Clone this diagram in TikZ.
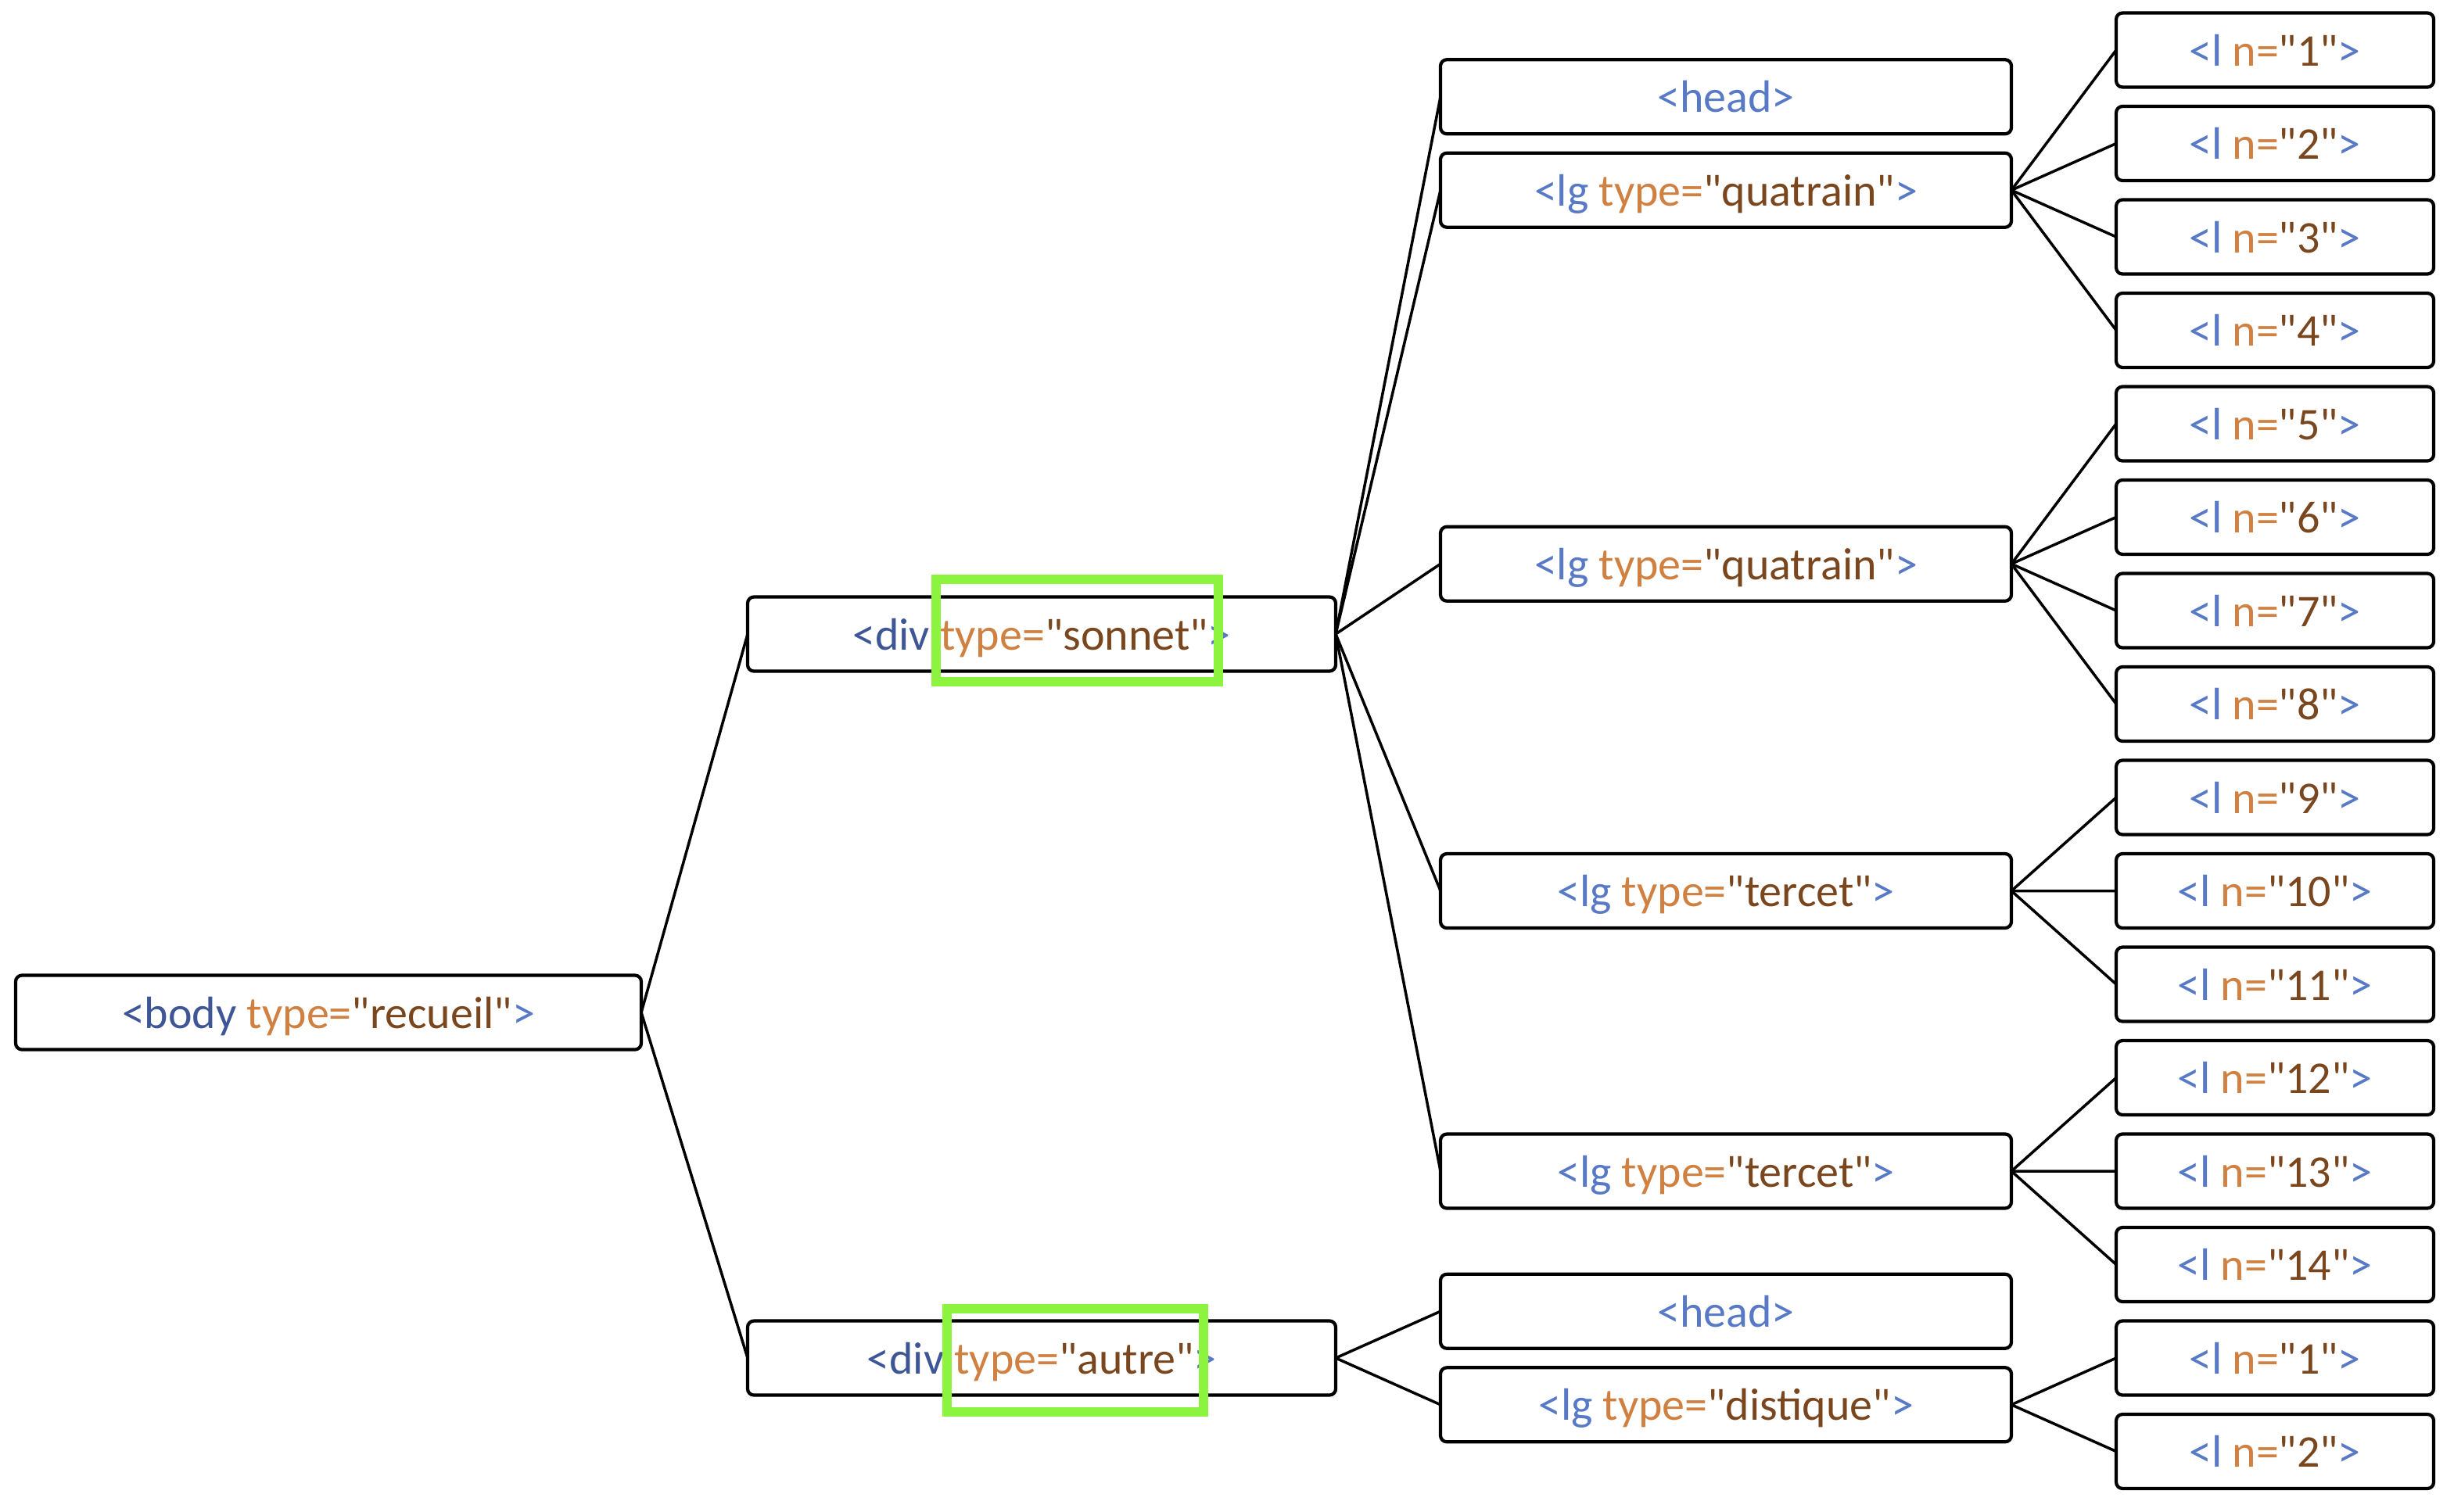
\documentclass[tikz,border=0pt]{standalone}
\usepackage{fontspec}
\setmainfont{Carlito}[Ligatures=TeXOff]
\usepackage{xcolor}
\usepackage{tikz}
\usetikzlibrary{positioning}

\definecolor{tagdark}{RGB}{62,86,150}
\definecolor{tagblue}{RGB}{88,122,198}
\definecolor{attrorange}{RGB}{208,128,64}
\definecolor{valbrown}{RGB}{122,70,30}
\definecolor{hlgreen}{RGB}{140,244,62}

\newcommand{\attr}[2]{\textcolor{attrorange}{#1=}\textcolor{valbrown}{"#2"}}
\newcommand{\lnum}[1]{\textcolor{tagblue}{<l }\attr{n}{#1}\textcolor{tagblue}{>}}
\newcommand{\lgtype}[1]{\textcolor{tagblue}{<lg }\attr{type}{#1}\textcolor{tagblue}{>}}

\begin{document}
\begin{tikzpicture}[
xmlbox/.style={
rectangle,
draw,
line width=1.2pt,
rounded corners=2.3pt,
minimum height=0.95cm,
inner sep=0pt,
outer sep=0pt,
text height=12.2pt,
text depth=0.8pt,
font=\fontsize{16.5}{20}\selectfont
},
lbox/.style={xmlbox, minimum width=4.06cm},
lgbox/.style={xmlbox, minimum width=7.30cm},
divbox/.style={xmlbox, minimum width=7.52cm},
bodybox/.style={xmlbox, minimum width=8.00cm},
link/.style={line width=1pt},
hilite/.style={draw=hlgreen, line width=3.4pt, inner sep=0pt}
]
\useasboundingbox (0,0) rectangle (31.38,-19.33);

% Vers
\node[lbox] (l1) at (29.09,-0.64) {\lnum{1}};
\node[lbox, below=0.245cm of l1] (l2) {\lnum{2}};
\node[lbox, below=0.245cm of l2] (l3) {\lnum{3}};
\node[lbox, below=0.245cm of l3] (l4) {\lnum{4}};
\node[lbox, below=0.245cm of l4] (l5) {\lnum{5}};
\node[lbox, below=0.245cm of l5] (l6) {\lnum{6}};
\node[lbox, below=0.245cm of l6] (l7) {\lnum{7}};
\node[lbox, below=0.245cm of l7] (l8) {\lnum{8}};
\node[lbox, below=0.245cm of l8] (l9) {\lnum{9}};
\node[lbox, below=0.245cm of l9] (l10) {\lnum{10}};
\node[lbox, below=0.245cm of l10] (l11) {\lnum{11}};
\node[lbox, below=0.245cm of l11] (l12) {\lnum{12}};
\node[lbox, below=0.245cm of l12] (l13) {\lnum{13}};
\node[lbox, below=0.245cm of l13] (l14) {\lnum{14}};
\node[lbox, below=0.245cm of l14] (autre-l1) {\lnum{1}};
\node[lbox, below=0.245cm of autre-l1] (autre-l2) {\lnum{2}};

% Strophes
\node[lgbox] (sonnet-head) at (22.07,-1.2375) {\textcolor{tagblue}{<head>}};
\node[lgbox] (quatrain-1) at (22.07,-2.4325) {\lgtype{quatrain}};
\node[lgbox] (quatrain-2) at (22.07,-7.2125) {\lgtype{quatrain}};
\node[lgbox] (tercet-1) at (22.07,-11.395) {\lgtype{tercet}};
\node[lgbox] (tercet-2) at (22.07,-14.98) {\lgtype{tercet}};
\node[lgbox] (autre-head) at (22.07,-16.7725) {\textcolor{tagblue}{<head>}};
\node[lgbox] (distique) at (22.07,-17.9675) {\lgtype{distique}};

% Divisions
\node[divbox] (div-sonnet) at (13.32,-8.11) {\textcolor{tagdark}{<div }\attr{type}{sonnet}\textcolor{tagblue}{>}};
\node[divbox] (div-autre) at (13.32,-17.37) {\textcolor{tagdark}{<div }\attr{type}{autre}\textcolor{tagblue}{>}};
\node[bodybox] (body) at (4.20,-12.95) {\textcolor{tagdark}{<body }\attr{type}{recueil}\textcolor{tagblue}{>}};

% Liens
\draw[link] (body.east) -- (div-sonnet.west);
\draw[link] (body.east) -- (div-autre.west);
\draw[link] (div-sonnet.east) -- (sonnet-head.west);
\draw[link] (div-sonnet.east) -- (quatrain-1.west);
\draw[link] (div-sonnet.east) -- (quatrain-2.west);
\draw[link] (div-sonnet.east) -- (tercet-1.west);
\draw[link] (div-sonnet.east) -- (tercet-2.west);
\draw[link] (div-autre.east) -- (autre-head.west);
\draw[link] (div-autre.east) -- (distique.west);
\draw[link] (quatrain-1.east) -- (l1.west);
\draw[link] (quatrain-1.east) -- (l2.west);
\draw[link] (quatrain-1.east) -- (l3.west);
\draw[link] (quatrain-1.east) -- (l4.west);
\draw[link] (quatrain-2.east) -- (l5.west);
\draw[link] (quatrain-2.east) -- (l6.west);
\draw[link] (quatrain-2.east) -- (l7.west);
\draw[link] (quatrain-2.east) -- (l8.west);
\draw[link] (tercet-1.east) -- (l9.west);
\draw[link] (tercet-1.east) -- (l10.west);
\draw[link] (tercet-1.east) -- (l11.west);
\draw[link] (tercet-2.east) -- (l12.west);
\draw[link] (tercet-2.east) -- (l13.west);
\draw[link] (tercet-2.east) -- (l14.west);
\draw[link] (distique.east) -- (autre-l1.west);
\draw[link] (distique.east) -- (autre-l2.west);

% Surlignage
\node[hilite, minimum width=3.61cm, minimum height=1.31cm] (hl-sonnet) at (13.775,-8.065) {};
\node[hilite, minimum width=3.28cm, minimum height=1.32cm] (hl-autre) at (13.75,-17.40) {};
\end{tikzpicture}
\end{document}
